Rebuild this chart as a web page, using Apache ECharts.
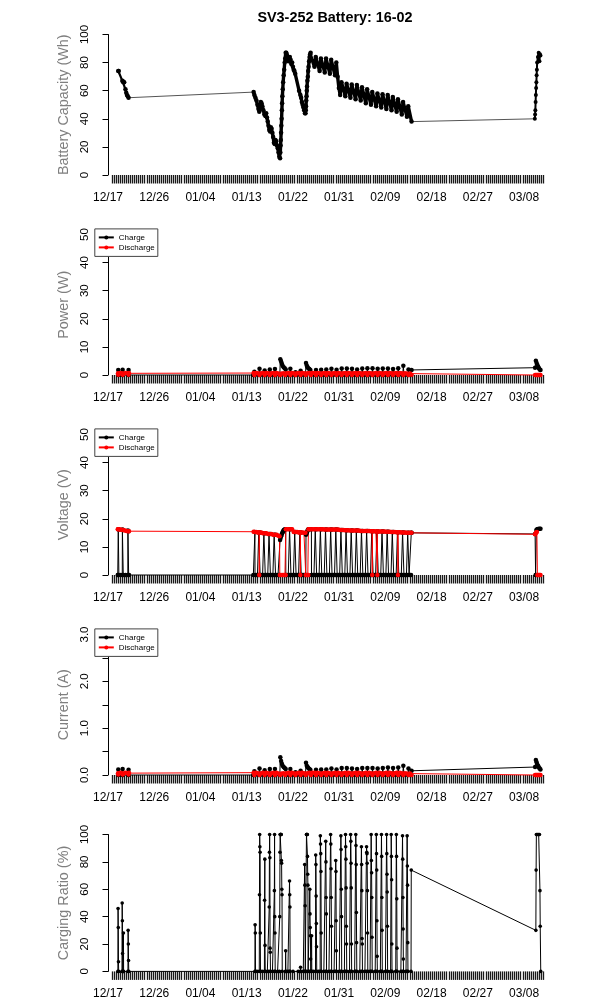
<!DOCTYPE html>
<html><head><meta charset="utf-8">
<script src="https://cdn.jsdelivr.net/npm/echarts@6/dist/echarts.min.js"></script>
<style>html,body{margin:0;padding:0;background:#fff}#c{width:600px;height:1000px}</style>
</head><body><div id="c"></div>
<script>
// ---- axis labels (days since 12/17) ----
const tickDays = [0, 9, 18, 27, 36, 45, 54, 63, 72, 81];
const tickLabels = ['12/17','12/26','01/04','01/13','01/22','01/31','02/09','02/18','02/27','03/08'];

// ---- Battery capacity (Wh) ----
const capA = [[2.0,74],[2.08,74],[2.8,67],[2.9,66.5],[3.0,66],[3.15,66],[3.4,61],[3.55,58.5],[3.7,57],[3.85,56],[4.0,55]];
const capB = [
[28.35,59],[28.5,57],[28.7,55],[28.9,53],[29.1,50],[29.3,47],[29.45,45],[29.6,48],[29.75,52],[29.9,51],[30.05,49],[30.25,46],[30.45,43],[30.65,42],[30.8,44],[30.95,41],[31.1,38],[31.25,35],[31.4,32],[31.55,31],[31.7,34],[31.85,33],[32.0,30],[32.15,27],[32.3,23],[32.45,22],[32.6,25],[32.75,24],[32.9,21],[33.05,19],[33.2,16],[33.35,13],[33.5,12],
[33.55,16],[33.6,21],[33.65,25],[33.7,30],[33.75,35],[33.8,40],[33.85,46],[33.9,51],[33.95,56],[34.02,61],[34.1,66],[34.2,71],[34.3,75],[34.4,80],[34.5,83],[34.6,87],
[34.7,87],[34.8,86],[34.95,84],[35.1,81],[35.25,83],[35.4,84],[35.55,82],[35.7,79],[35.85,80],[36.0,77],[36.15,75],[36.3,74],
[36.45,72],[37.2,60],[37.45,57],[37.6,55],[37.75,52],[37.9,50],[38.05,48],[38.2,46],[38.35,44],[38.45,44],
[38.5,46],[38.55,49],[38.6,53],[38.65,56],[38.7,60],[38.75,63],[38.82,67],[38.9,70],[38.97,74],[39.05,77],[39.15,81],[39.25,84],[39.35,86],[39.45,87],
[40.2,77],[40.45,84],[41.2,74],[41.45,83],[42.2,73],[42.45,83],[43.2,72],[43.45,82],[44.2,71],[44.45,80],
[44.7,70],[44.95,62],[45.2,57],[45.45,66],[46.2,56],[46.45,65],[47.2,55],[47.45,64.5],[48.2,54],[48.45,64],[49.2,53],[49.45,62.5],[50.2,51],[50.45,61],[51.2,50],[51.45,59],[52.2,49],[52.45,58],[53.2,48],[53.45,57.5],[54.2,47],[54.45,57],[55.2,46],[55.45,55.5],[56.2,45],[56.45,54],[57.2,43],[57.45,52],[58.2,41.5],[58.45,49],[59.1,38]];
const capC = [[83.1,40],[83.15,43],[83.2,46],[83.25,52],[83.3,57],[83.35,62],[83.4,66],[83.45,71],[83.5,75],[83.55,80],[83.7,84],[83.85,87],[83.95,85],[84.0,81],[84.1,86],[84.2,85]];

// ---- Power (W) ----
const powChA = [[1.95,0],[2.0,1.8],[2.1,0],[2.75,0],[2.85,1.9],[2.95,0],[3.9,0],[4.0,1.8],[4.08,0]];
const powChPeak = [1.2,2.2,1.6,2.0,2.1,null,null,2.2,1.0,1.5,null,null,1.8,1.9,2.0,2.2,1.9,2.3,2.3,2.2,2.0,2.3,2.4,2.4,2.2,2.3,2.3,2.1,2.4,3.3,2.0]; // days 28..58
const powChSpecial = [[28.3,0],[33.45,0],[33.55,5.6],[33.7,4.8],[33.85,4.0],[34.0,3.3],[34.2,2.8],[34.4,2.4],[34.6,2.0],[34.7,0],[38.45,0],[38.55,4.3],[38.7,3.4],[38.85,2.8],[39.0,2.4],[39.2,2.1],[39.4,1.8],[39.5,0],[59.0,0],[59.1,1.8]];
const powChC = [[83.15,2.6],[83.3,5.1],[83.45,4.3],[83.6,3.6],[83.75,2.9],[83.9,2.4],[84.05,2.0],[84.2,1.8]];
const powDisA = [[1.95,0.6],[2.0,0.1],[2.1,0.4],[2.4,0.7],[2.75,0.6],[2.85,0.1],[2.95,0.3],[3.4,0.7],[3.9,0.6],[4.0,0.1],[4.08,0.7]];
const powDisNight = [0.7,0.6,0.7,0.6,0.7,0.5,0.6,0.7,0.6,0.7,0.6,0.7,0.7,0.6,0.7,0.6,0.7,0.6,0.7,0.6,0.7,0.6,0.7,0.6,0.7,0.6,0.7,0.6,0.7,0.6,0.5];
const powDisEdge = [[28.35,0.7],[59.1,0.1]];
const powDisC = [[83.15,0],[83.3,0],[83.45,0],[83.6,0],[83.75,0],[83.9,0],[84.05,0],[84.2,0]];

// ---- Voltage (V) ----
const voltChA = [[1.9,0],[1.98,0],[2.0,16.3],[2.1,16.2],[2.12,0],[2.5,0],[2.78,0],[2.8,16.2],[2.95,16.0],[2.97,0],[3.4,0],[3.86,0],[3.88,15.8],[4.0,15.6],[4.02,0],[4.08,0]];
const voltDisA = [[1.9,16.3],[2.1,16.3],[2.3,16.2],[2.6,16.1],[2.8,16.0],[3.0,16.0],[3.3,15.8],[3.6,15.7],[3.9,15.6],[4.08,15.6]];
const voltTop = [15.3,15.1,14.9,14.6,14.3,14.0,16.3,16.3,15.3,15.1,15.0,16.3,16.3,16.3,16.2,16.2,16.2,16.0,15.9,15.8,15.8,15.7,15.7,15.6,15.5,15.5,15.4,15.3,15.2,15.1,15.0]; // days 28..58
const voltChSkip = [33,34,38,39];
const voltChSpecial = [[28.3,0],[33.1,0],[33.3,0],[33.45,0],[33.5,12.5],[33.6,13.2],[33.7,13.8],[33.8,14.3],[33.9,14.8],[34.0,15.2],[34.1,15.6],[34.2,15.9],[34.3,16.1],[34.45,16.3],[34.6,16.3],[34.62,0],[34.85,0],
[38.1,0],[38.3,0],[38.5,0],[38.55,14.3],[38.65,14.8],[38.75,15.3],[38.85,15.8],[38.95,16.1],[39.05,16.3],[39.3,16.3],[39.6,16.3],[39.62,0],[39.85,0],[59.0,0],[59.05,15.0],[59.1,15.0]];
const voltDisSkip = [33,34,38];
const voltDisDip = [29,37,51,52,56];
const voltDisSpecial = [[28.35,15.4],[33.15,14.0],[33.4,13.8],[33.45,0],[33.7,0],[33.95,0],[34.2,0],[34.45,0],[34.6,0],[34.62,16.3],[34.85,16.3],[38.15,15.0],[38.45,15.0],[38.5,0],[38.7,0],[38.9,0],[39.0,0],[39.02,16.3],[59.1,15.0]];
const voltChC = [[83.15,14.6],[83.25,0],[83.35,0],[83.4,16.0],[83.55,16.3],[83.7,16.4],[83.85,16.4],[84.0,16.5],[84.2,16.5]];
const voltDisC = [[83.15,14.5],[83.3,15.0],[83.5,15.3],[83.6,0],[83.75,0],[83.9,0],[84.05,0],[84.2,0]];

// ---- Current (A) ----
const curChA = [[1.95,0],[2.0,0.12],[2.1,0],[2.75,0],[2.85,0.13],[2.95,0],[3.9,0],[4.0,0.11],[4.08,0]];
const curChPeak = [0.08,0.14,0.10,0.13,0.13,null,null,0.13,0.06,0.09,null,null,0.11,0.12,0.12,0.14,0.12,0.15,0.15,0.14,0.13,0.15,0.15,0.15,0.14,0.15,0.16,0.15,0.16,0.20,0.14];
const curChSpecial = [[28.3,0],[33.45,0],[33.55,0.38],[33.7,0.30],[33.85,0.24],[34.0,0.20],[34.2,0.17],[34.4,0.15],[34.6,0.13],[34.7,0],[38.45,0],[38.55,0.26],[38.7,0.20],[38.85,0.17],[39.0,0.15],[39.2,0.13],[39.4,0.11],[39.5,0],[59.0,0],[59.1,0.09]];
const curChC = [[83.15,0.17],[83.3,0.32],[83.45,0.27],[83.6,0.22],[83.75,0.19],[83.9,0.16],[84.05,0.14],[84.2,0.12]];
const curDisA = [[1.95,0.04],[2.0,0.01],[2.1,0.03],[2.4,0.05],[2.75,0.04],[2.85,0.01],[2.95,0.02],[3.4,0.05],[3.9,0.04],[4.0,0.01],[4.08,0.05]];
const curDisNight = [0.05,0.04,0.05,0.04,0.05,0.03,0.04,0.05,0.04,0.05,0.04,0.05,0.05,0.04,0.05,0.04,0.05,0.04,0.05,0.04,0.05,0.04,0.05,0.04,0.05,0.04,0.05,0.04,0.05,0.04,0.03];
const curDisEdge = [[28.35,0.05],[59.1,0.0]];
const curDisC = [[83.15,0],[83.3,0],[83.45,0],[83.6,0],[83.75,0],[83.9,0],[84.05,0],[84.2,0]];

// ---- Charging ratio (%) : [start day, hourly values] ----
const ratioSpikes = [
[1.92,[0,46,32,7,0]],[2.72,[0,50,37,13,0]],[2.96,[0,28,0]],[3.88,[0,30,20,8,0]],
[28.6,[0,34,28,0]],[29.45,[0,56,100,91,87,28,0]],[30.45,[0,52,82,19,0]],[31.35,[0,47,87,100,83,17,14,0]],
[32.35,[0,59,100,40,28,0]],[33.4,[0,40,87,100,100,100,100,100,100,81,79,60,56,0]],[34.55,[0,15,0]],
[35.3,[0,66,56,47,0]],[37.45,[0,3,0]],[38.25,[0,78,63,48,0]],[38.6,[0,100,100,100,100,100,84,71,63,0]],
[39.25,[0,60,42,32,26,9,0]],[39.6,[0,26,0]],[40.4,[0,85,78,55,35,18,0]],[41.3,[0,99,93,86,73,28,0]],
[42.35,[0,95,80,54,42,0]],[43.3,[0,100,93,75,54,33,0]],[44.3,[0,81,73,37,15,0]],[45.3,[0,99,89,60,40,0]],
[46.2,[0,100,91,82,61,33,20,0]],[47.2,[0,100,95,79,61,20,0]],[48.2,[0,100,92,78,43,21,0]],[49.3,[0,91,78,59,24,20,0]],
[50.3,[0,91,87,86,79,59,28,0]],[51.2,[0,100,81,72,54,25,0]],[52.2,[0,100,86,74,37,11,0]],[53.2,[0,100,84,54,30,0]],
[54.2,[0,100,86,71,58,33,0]],[55.1,[0,100,84,67,20,0]],[56.1,[0,100,84,53,17,0]],[57.3,[0,99,82,54,31,9,0]],
[58.2,[0,99,77,63,21,0]],[59.0,[0,74]]];
const ratioNightDays = [29,30,31,32,33,35,36,37,38,40,41,42,43,44,45,46,47,48,49,50,51,52,53,54,55,56,57,58];
const ratioC = [[83.3,30],[83.35,74],[83.4,100],[83.55,100],[83.7,100],[83.85,100],[84.0,100],[84.1,59],[84.15,33],[84.25,0]];

// ---------------- build ----------------
const HOUR = 0.04;
const byX = a => a.slice().sort((p, q) => p[0] - q[0]);
const inB = p => p[0] >= 28.36 && p[0] <= 59.05;
function daily(vals, fn, skip) {
  const out = [];
  vals.forEach((v, i) => {
    const d = 28 + i;
    if (v === null || (skip && skip.indexOf(d) >= 0)) return;
    fn(d, v).forEach(p => out.push(p));
  });
  return out.filter(inB);
}
const powCh = byX(powChA.concat(daily(powChPeak, (d, v) => [[d + 0.38, 0], [d + 0.5, v], [d + 0.62, 0]]), powChSpecial, powChC));
const powDis = byX(powDisA.concat(daily(powDisNight, (d, v) => [[d + 0.2, v], [d + 0.5, 0], [d + 0.8, v]]), powDisEdge, powDisC));
const voltCh = byX(voltChA.concat(daily(voltTop, (d, v) => [[d + 0.1, 0], [d + 0.33, 0], [d + 0.35, v], [d + 0.6, v], [d + 0.62, 0], [d + 0.85, 0]], voltChSkip), voltChSpecial, voltChC));
const voltDis = byX(voltDisA.concat(daily(voltTop, (d, v) => voltDisDip.indexOf(d) >= 0 ?
  [[d + 0.15, v], [d + 0.42, v], [d + 0.45, 0], [d + 0.48, v], [d + 0.85, v]] :
  [[d + 0.15, v], [d + 0.5, v], [d + 0.85, v]], voltDisSkip), voltDisSpecial, voltDisC));
const curCh = byX(curChA.concat(daily(curChPeak, (d, v) => [[d + 0.38, 0], [d + 0.5, v], [d + 0.62, 0]]), curChSpecial, curChC));
const curDis = byX(curDisA.concat(daily(curDisNight, (d, v) => [[d + 0.2, v], [d + 0.5, 0], [d + 0.8, v]]), curDisEdge, curDisC));
let ratio = [];
ratioSpikes.forEach(s => s[1].forEach((v, k) => ratio.push([s[0] + k * HOUR, v])));
ratioNightDays.forEach(d => ratio.push([d + 0.02, 0]));
ratio = byX(ratio.concat(ratioC));

// rug ticks over the recorded period
const rugTicks = [];
for (let t = 0.75; t <= 85.1; t += 0.4) rugTicks.push(+t.toFixed(3));

// ---------------- chart ----------------
const FONT = 'Liberation Sans, Arial, Helvetica, sans-serif';
const xMin = -2.57, xMax = 88.37;
const tops = [34.5, 234.5, 434.5, 634.5, 834.5];
const H = 140.5;
const yDefs = [
  {name: 'Battery Capacity (Wh)', min: 0, max: 100, interval: 20},
  {name: 'Power (W)', min: 0, max: 50, interval: 10},
  {name: 'Voltage (V)', min: 0, max: 50, interval: 10},
  {name: 'Current (A)', min: 0, max: 3, interval: 0.5, fmt: v => (Math.abs(v - Math.round(v)) < 1e-6 ? v.toFixed(1) : '')},
  {name: 'Carging Ratio (%)', min: 0, max: 100, interval: 20}
];
const grids = tops.map(t => ({left: 94.8, right: 38.1, top: t, height: H}));
const xAxes = tops.map((t, i) => ({
  gridIndex: i, type: 'value', min: xMin, max: xMax, position: 'bottom', offset: 5.6,
  axisLine: {show: true, lineStyle: {color: 'rgba(0,0,0,0)'}},
  axisTick: {show: true, length: 8.5, customValues: rugTicks, lineStyle: {color: '#1a1a1a', width: 1.3}},
  axisLabel: {show: true, customValues: tickDays, margin: 11, fontSize: 12, color: '#000', fontFamily: FONT,
    formatter: v => { const k = tickDays.findIndex(d => Math.abs(d - v) < 1e-6); return k >= 0 ? tickLabels[k] : ''; }},
  splitLine: {show: false}
}));
const yAxes = yDefs.map((d, i) => ({
  gridIndex: i, type: 'value', min: d.min, max: d.max, interval: d.interval,
  axisLine: {show: true, lineStyle: {color: '#000', width: 1}},
  axisTick: {show: true, length: 5.5, lineStyle: {color: '#000', width: 1}},
  axisLabel: {rotate: 90, margin: 4, fontSize: 11.5, color: '#000', fontFamily: FONT, formatter: d.fmt},
  splitLine: {show: false},
  name: d.name, nameLocation: 'middle', nameGap: 22, nameRotate: 90,
  nameTextStyle: {color: '#7f7f7f', fontSize: 14.4, fontFamily: FONT}
}));

function line(name, gi, data, color, opts) {
  opts = opts || {};
  return {
    name: name, type: 'line', xAxisIndex: gi, yAxisIndex: gi, data: data,
    symbol: 'circle', symbolSize: opts.size || 4.5, showSymbol: opts.showSymbol !== false,
    lineStyle: {color: color, width: opts.width || 1}, itemStyle: {color: color},
    clip: false, silent: true, animation: false, emphasis: {disabled: true}
  };
}
const series = [
  line('capGap1', 0, [capA[capA.length - 1], capB[0]], '#555', {showSymbol: false, width: 1}),
  line('capGap2', 0, [capB[capB.length - 1], capC[0]], '#555', {showSymbol: false, width: 1}),
  line('Capacity', 0, capA, '#000', {size: 4.5, width: 2.2}),
  line('Capacity', 0, capB, '#000', {size: 4.5, width: 3.4}),
  line('Capacity', 0, capC, '#000', {size: 4, width: 2}),
  line('Charge', 1, powCh, '#000'),
  line('Discharge', 1, powDis, '#ff0000'),
  line('Charge', 2, voltCh, '#000'),
  line('Discharge', 2, voltDis, '#ff0000'),
  line('Charge', 3, curCh, '#000'),
  line('Discharge', 3, curDis, '#ff0000'),
  line('Ratio', 4, ratio, '#000', {size: 3.6})
];
const legends = [1, 2, 3].map(i => ({
  data: ['Charge', 'Discharge'], orient: 'vertical', left: 94.8, top: tops[i] - 5.6,
  itemWidth: 15, itemHeight: 5, itemGap: 0, padding: [3.5, 3, 4, 3],
  borderColor: '#444', borderWidth: 1, backgroundColor: '#fff',
  textStyle: {fontSize: 8, lineHeight: 10, color: '#000', fontFamily: FONT},
  selectedMode: false
}));

const chart = echarts.init(document.getElementById('c'), null, {renderer: 'canvas'});
chart.setOption({
  animation: false, backgroundColor: '#fff',
  title: {text: 'SV3-252 Battery: 16-02', left: 330, top: 6, textAlign: 'center',
    textStyle: {fontSize: 14.4, fontWeight: 'bold', color: '#000', fontFamily: FONT}},
  legend: legends, grid: grids, xAxis: xAxes, yAxis: yAxes, series: series
});
</script></body></html>
